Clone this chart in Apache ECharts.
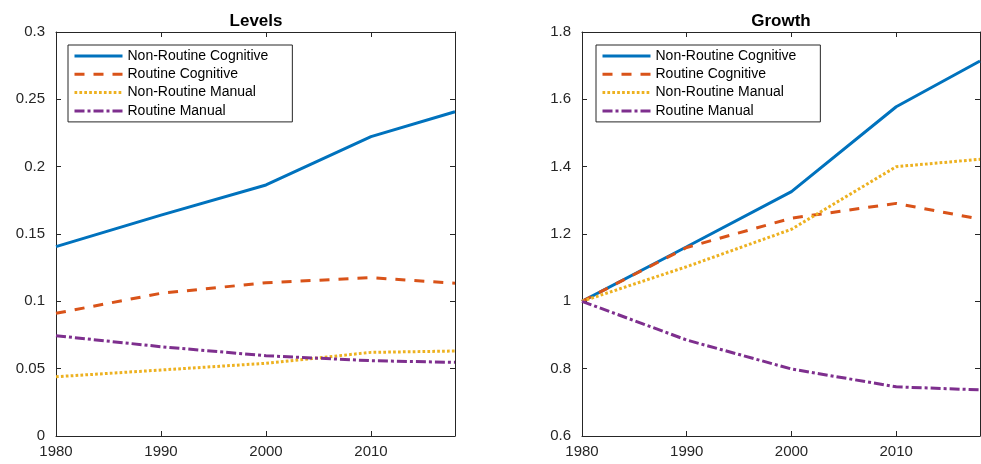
<!DOCTYPE html>
<html>
<head>
<meta charset="utf-8">
<script src="https://cdn.jsdelivr.net/npm/echarts@6/dist/echarts.min.js"></script>
<style>
  html, body { margin: 0; padding: 0; background: #fff; }
  #main { width: 981px; height: 464px; }
</style>
</head>
<body>
<div id="main"></div>
<script>
// data
var years = [1980, 1990, 2000, 2010, 2018];
var seriesNames = ['Non-Routine Cognitive', 'Routine Cognitive', 'Non-Routine Manual', 'Routine Manual'];

// left panel: levels
var levelNRC = [0.1406, 0.1640, 0.1864, 0.2223, 0.2408];
var levelRC  = [0.0911, 0.1060, 0.1138, 0.1176, 0.1134];
var levelNRM = [0.0440, 0.0490, 0.0540, 0.0621, 0.0631];
var levelRM  = [0.0745, 0.0663, 0.0596, 0.0559, 0.0547];

// right panel: growth (1980 = 1)
var growthNRC = [1.000, 1.162, 1.326, 1.578, 1.714];
var growthRC  = [1.000, 1.160, 1.247, 1.291, 1.244];
var growthNRM = [1.000, 1.103, 1.214, 1.400, 1.422];
var growthRM  = [1.000, 0.885, 0.799, 0.746, 0.737];

var colors = ['#0072BD', '#D95319', '#EDB120', '#7E2F8E'];
var dashes = ['solid', [10, 9], [2.7, 2.2], [10, 3, 3, 3]];
var axisColor = '#262626';
var fontFamily = '"Liberation Sans", Arial, Helvetica, sans-serif';

function pairs(xs, ys) {
    var out = [];
    for (var i = 0; i < xs.length; i++) out.push([xs[i], ys[i]]);
    return out;
}

function xAx(gridIndex, pos) {
    return {
        type: 'value', gridIndex: gridIndex, position: pos,
        min: 1980, max: 2018, interval: 10,
        axisLine: { show: true, onZero: false, lineStyle: { color: axisColor, width: 1 } },
        axisTick: { show: true, inside: true, length: 5, lineStyle: { color: axisColor } },
        axisLabel: {
            show: pos === 'bottom', margin: 8, color: axisColor, fontSize: 15, fontFamily: fontFamily,
            showMaxLabel: false,
            formatter: function (v) { return v % 10 === 0 ? String(v) : ''; }
        },
        splitLine: { show: false }
    };
}

function yAx(gridIndex, pos, mn, mx, step) {
    return {
        type: 'value', gridIndex: gridIndex, position: pos,
        min: mn, max: mx, interval: step,
        axisLine: { show: true, onZero: false, lineStyle: { color: axisColor, width: 1 } },
        axisTick: { show: true, inside: true, length: 5, lineStyle: { color: axisColor } },
        axisLabel: { show: pos === 'left', margin: 11, color: axisColor, fontSize: 15, fontFamily: fontFamily },
        splitLine: { show: false }
    };
}

function mkSeries(name, idx, data, axisIdx) {
    return {
        name: name, type: 'line', data: data,
        xAxisIndex: axisIdx, yAxisIndex: axisIdx,
        symbol: 'none', showSymbol: false, smooth: false,
        lineStyle: { color: colors[idx], width: 3, type: dashes[idx] },
        itemStyle: { color: colors[idx] },
        emphasis: { disabled: true }
    };
}

function mkLegend(left) {
    return {
        orient: 'vertical', left: left, top: 45,
        data: seriesNames,
        backgroundColor: '#fff',
        borderColor: axisColor, borderWidth: 1,
        padding: [4, 24, 4, 5],
        itemWidth: 48, itemHeight: 14, itemGap: 4.3,
        itemStyle: { opacity: 0 },
        lineStyle: { width: 3 },
        textStyle: { color: '#000', fontSize: 14, fontFamily: fontFamily },
        selectedMode: false
    };
}

var myChart = echarts.init(document.getElementById('main'));
var levelData = [levelNRC, levelRC, levelNRM, levelRM];
var growthData = [growthNRC, growthRC, growthNRM, growthRM];
var series = [];
for (var i = 0; i < 4; i++) series.push(mkSeries(seriesNames[i], i, pairs(years, levelData[i]), 0));
for (var j = 0; j < 4; j++) series.push(mkSeries(seriesNames[j], j, pairs(years, growthData[j]), 2));

var option = {
    animation: false,
    textStyle: { fontFamily: fontFamily },
    title: [
        { text: 'Levels', left: 251, top: 8, textAlign: 'center',
          textStyle: { fontSize: 17, fontWeight: 'bold', color: '#000', fontFamily: fontFamily } },
        { text: 'Growth', left: 776, top: 8, textAlign: 'center',
          textStyle: { fontSize: 17, fontWeight: 'bold', color: '#000', fontFamily: fontFamily } }
    ],
    legend: [mkLegend(68), mkLegend(596)],
    grid: [
        { left: 56, top: 32, width: 399, height: 404, containLabel: false },
        { left: 582, top: 32, width: 398, height: 404, containLabel: false }
    ],
    xAxis: [xAx(0, 'bottom'), xAx(0, 'top'), xAx(1, 'bottom'), xAx(1, 'top')],
    yAxis: [yAx(0, 'left', 0, 0.3, 0.05), yAx(0, 'right', 0, 0.3, 0.05),
            yAx(1, 'left', 0.6, 1.8, 0.2), yAx(1, 'right', 0.6, 1.8, 0.2)],
    series: series
};
myChart.setOption(option);
</script>
</body>
</html>
